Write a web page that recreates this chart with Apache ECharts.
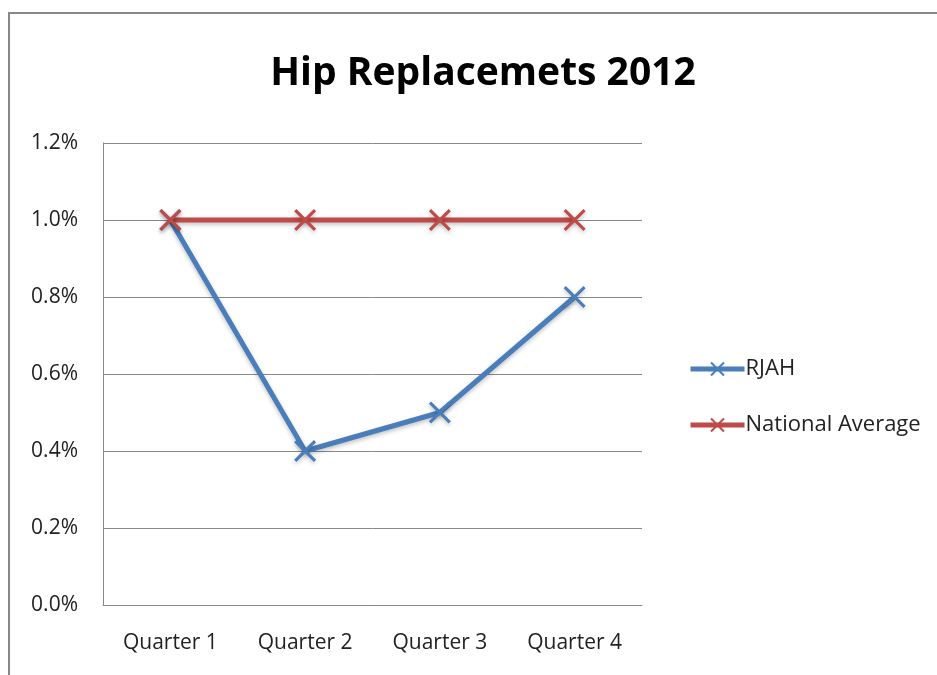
<!DOCTYPE html>
<html><head><meta charset="utf-8">
<script src="https://cdn.jsdelivr.net/npm/echarts@6/dist/echarts.min.js"></script>
<style>html,body{margin:0;padding:0;background:#fff}#c{width:937px;height:675px}</style>
</head><body><div id="c"></div>
<script>
const categories = ['Quarter 1', 'Quarter 2', 'Quarter 3', 'Quarter 4'];
const rjah = [0.010, 0.004, 0.005, 0.008];
const nationalAverage = [0.010, 0.010, 0.010, 0.010];
const yTicks = [0, 0.002, 0.004, 0.006, 0.008, 0.010, 0.012];

const FONT = '"Open Sans", sans-serif';
const X = 'path://M0,1 L1,0 L5,4 L9,0 L10,1 L6,5 L10,9 L9,10 L5,6 L1,10 L0,9 L4,5 Z';
const chart = echarts.init(document.getElementById('c'));
function mk(name, data, color) {
  return {
    name, type: 'line', data,
    symbol: X, symbolSize: 22, showAllSymbol: true,
    lineStyle: { color, width: 5, shadowColor: 'rgba(0,0,0,0.25)', shadowBlur: 4, shadowOffsetY: 2 },
    itemStyle: { color, shadowColor: 'rgba(0,0,0,0.25)', shadowBlur: 4, shadowOffsetY: 2 },
    emphasis: { disabled: true }, animation: false
  };
}
chart.setOption({
  animation: false,
  graphic: [{ type: 'rect', shape: { x: 9, y: 13, width: 1000, height: 1000 }, style: { fill: 'none', stroke: '#888', lineWidth: 2 } }],
  title: { text: 'Hip Replacemets 2012', left: 478, top: 49, textAlign: 'center',
    textStyle: { fontFamily: FONT, fontWeight: 'bold', fontSize: 39, color: '#000' } },
  legend: { orient: 'vertical', left: 683, top: 353, itemWidth: 54, itemHeight: 18, itemGap: 34,
    lineStyle: { width: 5 }, itemStyle: { shadowBlur: 0 },
    textStyle: { fontFamily: FONT, fontSize: 22, color: '#222', padding: [0, 0, 0, -4] },
    data: ['RJAH', 'National Average'] },
  grid: { left: 103, right: 295, top: 143, bottom: 70, containLabel: false },
  xAxis: { type: 'category', data: categories, boundaryGap: true,
    axisLine: { lineStyle: { color: '#888', width: 1 } }, axisTick: { show: false },
    axisLabel: { fontFamily: FONT, fontSize: 21, color: '#222', margin: 28 } },
  yAxis: { type: 'value', min: 0, max: 0.012, interval: 0.002,
    axisLine: { show: true, lineStyle: { color: '#888', width: 1 } }, axisTick: { show: false },
    splitLine: { lineStyle: { color: '#888', width: 1 } },
    axisLabel: { fontFamily: FONT, fontSize: 21, color: '#222', margin: 25,
      formatter: v => (v * 100).toFixed(1) + '%' } },
  series: [mk('RJAH', rjah, '#4A7EBB'), mk('National Average', nationalAverage, '#BE4B48')]
});
</script></body></html>
